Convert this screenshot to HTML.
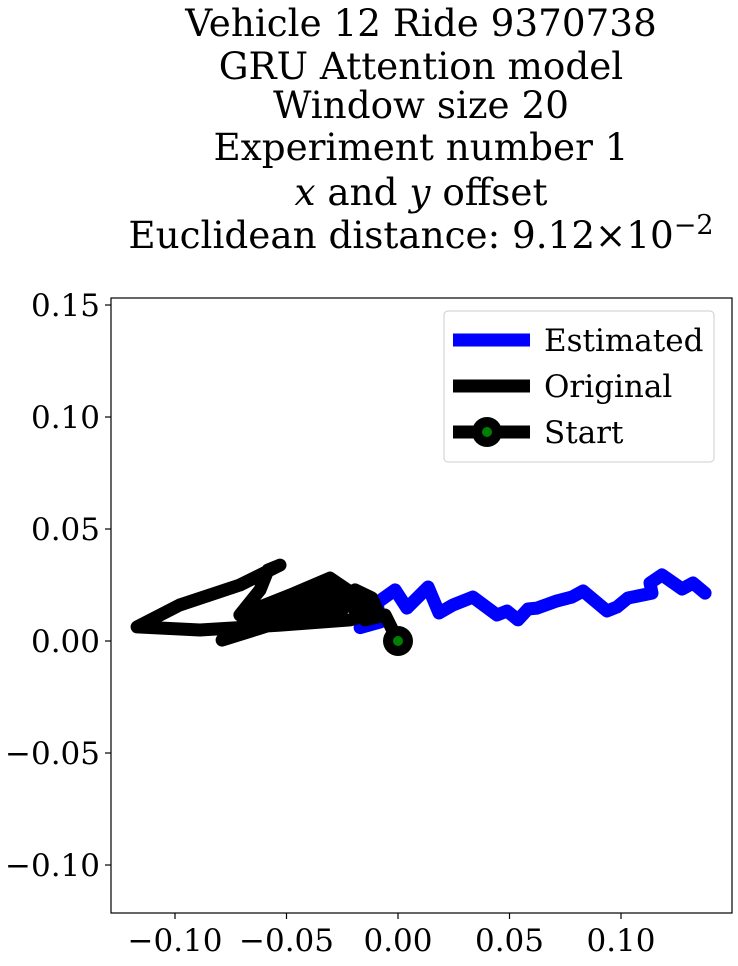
<!DOCTYPE html>
<html><head><meta charset="utf-8"><style>
body{margin:0;background:#fff}
svg text{font-family:"DejaVu Serif","Liberation Serif",serif;fill:#000}
</style></head><body>
<svg width="738" height="961" xmlns="http://www.w3.org/2000/svg">
<g font-size="37.3" text-anchor="middle">
<text x="421" y="36">Vehicle 12 Ride 9370738</text>
<text x="421" y="79">GRU Attention model</text>
<text x="421" y="118">Window size 20</text>
<text x="421" y="160">Experiment number 1</text>
<text x="421" y="205"><tspan font-style="italic">x</tspan> and <tspan font-style="italic">y</tspan> offset</text>
<text x="421" y="248">Euclidean distance: 9.12×10<tspan dy="-14" font-size="27">−2</tspan></text>
</g>
<defs><clipPath id="clip"><rect x="111" y="298" width="621" height="615"/></clipPath></defs>
<g id="marks" clip-path="url(#clip)"></g>
<rect x="111" y="298" width="621" height="615" fill="none" stroke="#000" stroke-width="1.2"/>
<g id="ticks" font-size="31"></g>
<g>
<rect x="444" y="311" width="270" height="151" rx="4" fill="#fff" stroke="#ccc"/>
<line x1="453" y1="340" x2="530" y2="340" stroke="#00f" stroke-width="13"/>
<text x="544" y="351" font-size="31">Estimated</text>
<line x1="453" y1="386" x2="530" y2="386" stroke="#000" stroke-width="13"/>
<text x="544" y="397" font-size="31">Original</text>
<line x1="453" y1="432" x2="530" y2="432" stroke="#000" stroke-width="13"/>
<circle cx="487" cy="432" r="15" fill="#000"/><circle cx="487" cy="432" r="5" fill="#008000"/>
<text x="544" y="443" font-size="31">Start</text>
</g>
</svg>
<script>
const estX=[-0.017,-0.008,-0.0094,-0.0013,0.004,0.0135,0.0184,0.0247,0.0336,0.0444,0.0489,0.0538,0.0583,0.0623,0.0713,0.078,0.083,0.0937,0.0982,0.1031,0.1139,0.113,0.1184,0.1274,0.1323,0.1377];
const estY=[0.006,0.0085,0.017,0.0228,0.0147,0.0241,0.0125,0.0161,0.0196,0.0116,0.0134,0.0094,0.0143,0.0147,0.0179,0.0196,0.0223,0.0134,0.0152,0.0192,0.0214,0.0259,0.0295,0.0232,0.0259,0.0214];
const origX=[0,-0.0058,-0.0148,-0.0215,-0.0283,-0.0395,-0.0619,-0.0789,-0.0574,-0.026,-0.0193,-0.0305,-0.0484,-0.0709,-0.0619,-0.0583,-0.0529,-0.0709,-0.0978,-0.117,-0.0888,-0.0529,-0.0215,-0.009,-0.0117,-0.0193,-0.035,-0.055,-0.075,-0.060,-0.040,-0.020,-0.012];
const origY=[0,0.0116,0.0094,0.0161,0.0263,0.0205,0.0129,0.0004,0.0071,0.0129,0.0205,0.0281,0.0205,0.0116,0.0228,0.0317,0.0339,0.025,0.0161,0.0063,0.0049,0.0071,0.0094,0.0129,0.0192,0.0228,0.015,0.010,0.004,0.012,0.017,0.022,0.013];
const startPt=[0,0];
const xTicks=[-0.10,-0.05,0.00,0.05,0.10];
const yTicks=[0.15,0.10,0.05,0.00,-0.05,-0.10];
const sx=v=>398+v*2230, sy=v=>641-v*2240;
const NS='http://www.w3.org/2000/svg';
const marks=document.getElementById('marks'), ticks=document.getElementById('ticks');
function mk(t,a,p){const e=document.createElementNS(NS,t);for(const k in a)e.setAttribute(k,a[k]);p.appendChild(e);return e;}
function line(xs,ys,c,name){
 const d=xs.map((x,i)=>(i?'L':'M')+sx(x).toFixed(1)+' '+sy(ys[i]).toFixed(1)).join(' ');
 const p=mk('path',{d:d,fill:'none',stroke:c,'stroke-width':13,'stroke-linejoin':'round','stroke-linecap':'round'},marks);
 
 
}
line(estX,estY,'#00f','estimated-line');
line(origX,origY,'#000','original-line');
const c1=mk('circle',{cx:sx(startPt[0]),cy:sy(startPt[1]),r:15,fill:'#000'},marks);


mk('circle',{cx:sx(startPt[0]),cy:sy(startPt[1]),r:5,fill:'#008000'},marks);
const fmt=v=>(v<0?'−':'')+Math.abs(v).toFixed(2);
xTicks.forEach(v=>{
 mk('line',{x1:sx(v),x2:sx(v),y1:913,y2:919,stroke:'#000','stroke-width':1.2},ticks);
 const t=mk('text',{x:sx(v),y:951,'text-anchor':'middle'},ticks);t.textContent=fmt(v);
 
 
});
yTicks.forEach(v=>{
 mk('line',{x1:105,x2:111,y1:sy(v),y2:sy(v),stroke:'#000','stroke-width':1.2},ticks);
 const t=mk('text',{x:100,y:sy(v)+11,'text-anchor':'end'},ticks);t.textContent=fmt(v);
 
 
});
</script>
</body></html>
